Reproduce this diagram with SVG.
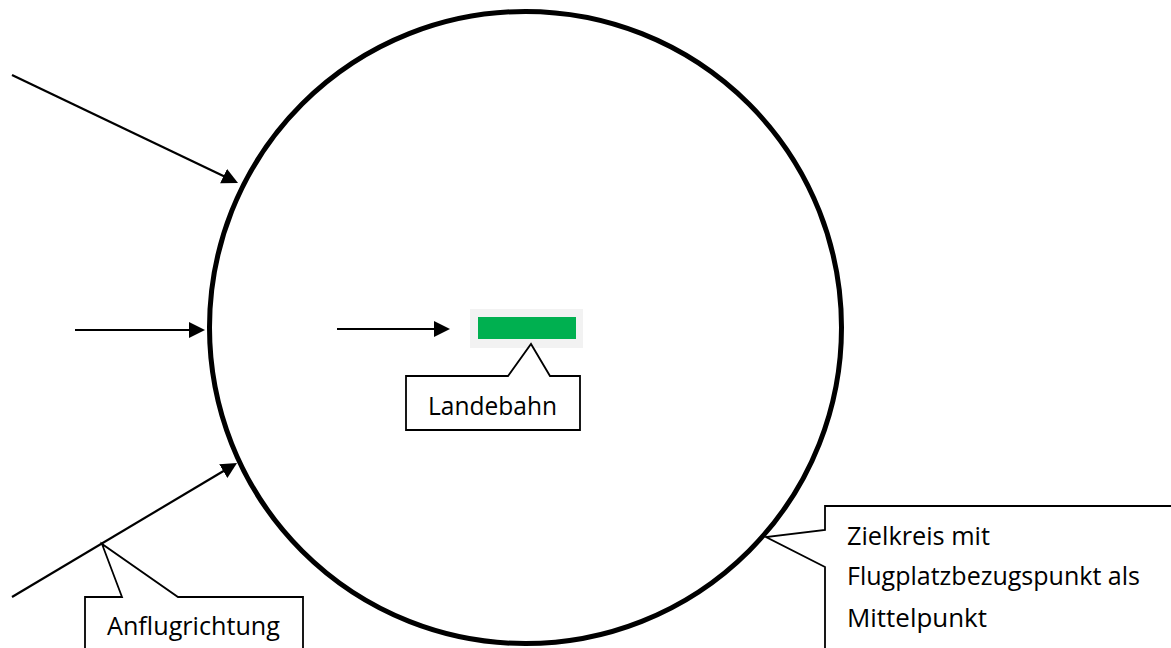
<svg xmlns="http://www.w3.org/2000/svg" width="1171" height="648" viewBox="0 0 1171 648">
  <style>
    .label { font-family: "Open Sans", "Noto Sans", "Liberation Sans", sans-serif; font-size: 25px; fill: #000; }
    .callout { fill: #fff; stroke: #000; stroke-width: 1.8; stroke-linejoin: miter; }
    .arrow { stroke: #000; stroke-width: 2.2; fill: none; marker-end: url(#head); }
  </style>
  <defs>
    <marker id="head" viewBox="0 0 16 16" refX="12" refY="8" markerWidth="16" markerHeight="16" markerUnits="userSpaceOnUse" orient="auto">
      <path d="M0,0 L16,8 L0,16 Z" fill="#000"/>
    </marker>
  </defs>

  <rect width="1171" height="648" fill="#fff"/>

  <!-- target circle around the aerodrome reference point -->
  <g id="zielkreis">
    <circle cx="525.5" cy="327.5" r="316" fill="none" stroke="#000" stroke-width="5"/>
  </g>

  <!-- runway -->
  <g id="landebahn">
    <rect x="470" y="309" width="113" height="39" fill="#f2f2f2"/>
    <rect x="478" y="317" width="98" height="22" fill="#00b050"/>
  </g>

  <!-- approach direction arrows -->
  <g id="connectors">
    <line class="arrow" x1="12" y1="75" x2="234.4" y2="181.3"/>
    <line class="arrow" x1="75" y1="330" x2="201" y2="330"/>
    <line class="arrow" x1="337" y1="329" x2="446" y2="329"/>
    <line class="arrow" x1="12" y1="597" x2="233.6" y2="465"/>
  </g>

  <!-- callout: runway -->
  <g id="callout-landebahn">
    <path class="callout" d="M406,376 L508,376 L531,344 L550,376 L580,376 L580,430 L406,430 Z"/>
    <text class="label" x="428" y="415" textLength="129" lengthAdjust="spacingAndGlyphs">Landebahn</text>
  </g>

  <!-- callout: approach direction -->
  <g id="callout-anflugrichtung">
    <path class="callout" d="M85,652 L85,597 L122,597 L102,544 L178,597 L303,597 L303,652"/>
    <text class="label" x="107" y="635" textLength="173" lengthAdjust="spacingAndGlyphs">Anflugrichtung</text>
  </g>

  <!-- callout: target circle -->
  <g id="callout-zielkreis">
    <path class="callout" d="M1175,506 L825,506 L825,530 L766,537 L825,567 L825,652"/>
    <text class="label" x="847" y="545" textLength="143" lengthAdjust="spacingAndGlyphs">Zielkreis mit</text>
    <text class="label" x="847" y="585" textLength="293" lengthAdjust="spacingAndGlyphs">Flugplatzbezugspunkt als</text>
    <text class="label" x="847" y="627" textLength="140" lengthAdjust="spacingAndGlyphs">Mittelpunkt</text>
  </g>
</svg>
